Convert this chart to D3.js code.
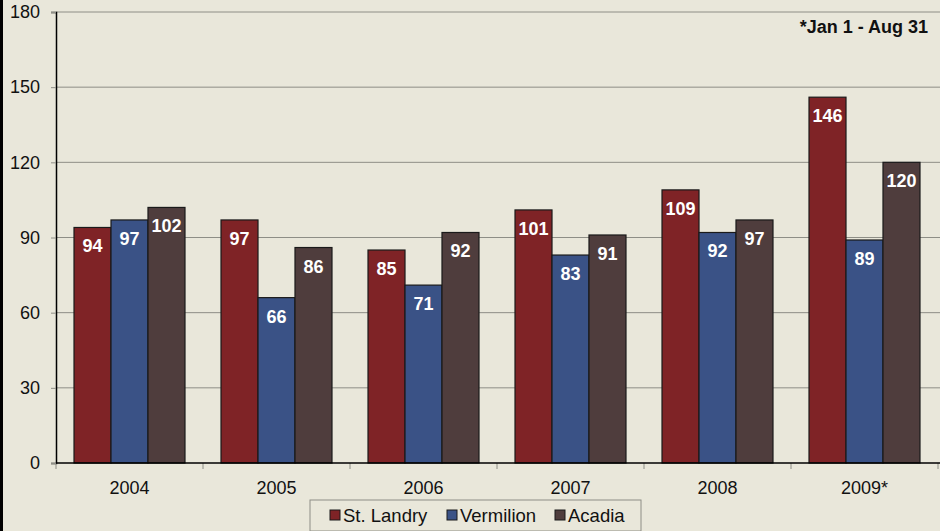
<!DOCTYPE html>
<html>
<head>
<meta charset="utf-8">
<script src="https://cdn.jsdelivr.net/npm/d3@7"></script>
<style>
  body { margin: 0; background: #e9e7da; }
  svg { display: block; font-family: "Liberation Sans", Arial, sans-serif; }
</style>
</head>
<body>
<div id="chart"></div>
<script>
const years = ["2004", "2005", "2006", "2007", "2008", "2009*"];
const parishes = ["St. Landry", "Vermilion", "Acadia"];
const stLandry = [94, 97, 85, 101, 109, 146];
const vermilion = [97, 66, 71, 83, 92, 89];
const acadia = [102, 86, 92, 91, 97, 120];
const yTicks = [0, 30, 60, 90, 120, 150, 180];
const colors = ["#7f2326", "#3a5286", "#4f3d3d"];
const footnote = "*Jan 1 - Aug 31";

const seriesValues = [stLandry, vermilion, acadia];
const rows = years.map((y, i) => ({year: y, values: parishes.map((p, j) => ({key: p, value: seriesValues[j][i]}))}));

const W = 940, H = 531;
const margin = {top: 12, right: 2, bottom: 68, left: 56};
const width = W - margin.left - margin.right;
const height = H - margin.top - margin.bottom;
const fs = 18;

const svg = d3.select("#chart").append("svg")
    .attr("width", W)
    .attr("height", H);

svg.append("rect").attr("width", W).attr("height", H).attr("fill", "#e9e7da");
// left frame edge
svg.append("line").attr("x1", 1.5).attr("x2", 1.5).attr("y1", 0).attr("y2", H)
    .attr("stroke", "#000").attr("stroke-width", 3);

const g = svg.append("g").attr("transform", "translate(" + margin.left + "," + margin.top + ")");

const x0 = d3.scaleBand().domain(years).range([0, width]).paddingInner(0.245).paddingOuter(0.1225);
const x1 = d3.scaleBand().domain(parishes).range([0, x0.bandwidth()]);
const y = d3.scaleLinear().domain([0, 180]).range([height, 0]);

// gridlines
g.selectAll(".grid").data(yTicks.filter(d => d > 0)).join("line")
    .attr("class", "grid")
    .attr("x1", 0).attr("x2", W - margin.left)
    .attr("y1", d => y(d)).attr("y2", d => y(d))
    .attr("stroke", "#8e8e86").attr("stroke-width", 1);

// y axis
const yAxis = g.append("g").call(d3.axisLeft(y).tickValues(yTicks).tickSize(5).tickPadding(11));
yAxis.select(".domain").attr("stroke", "#000").attr("stroke-width", 1.5);
yAxis.selectAll(".tick line").attr("stroke", "#8e8e86");
yAxis.selectAll("text").attr("font-size", fs).attr("fill", "#111").attr("font-family", "Liberation Sans, Arial, sans-serif");

// bars
const groups = g.selectAll(".yearG").data(rows).join("g")
    .attr("class", "yearG")
    .attr("transform", d => "translate(" + x0(d.year) + ",0)");

groups.selectAll("rect").data(d => d.values).join("rect")
    .attr("x", d => x1(d.key))
    .attr("y", d => y(d.value))
    .attr("width", x1.bandwidth())
    .attr("height", d => height - y(d.value))
    .attr("fill", (d, i) => colors[i])
    .attr("stroke", "#1a1a1a").attr("stroke-width", 1.2);

groups.selectAll(".lbl").data(d => d.values).join("text")
    .attr("class", "lbl")
    .attr("x", d => x1(d.key) + x1.bandwidth() / 2)
    .attr("y", d => y(d.value) + 25)
    .attr("text-anchor", "middle")
    .attr("font-size", fs).attr("font-weight", "bold").attr("fill", "#fff")
    .text(d => d.value);

// x axis
const xEdges = d3.range(years.length + 1).map(i => i * x0.step());
g.selectAll(".xtick").data(xEdges).join("line")
    .attr("x1", d => d).attr("x2", d => d)
    .attr("y1", height).attr("y2", height + 6)
    .attr("stroke", "#8e8e86");
g.append("line").attr("x1", 0).attr("x2", W - margin.left)
    .attr("y1", height).attr("y2", height)
    .attr("stroke", "#000").attr("stroke-width", 1.5);
g.selectAll(".xlbl").data(years).join("text")
    .attr("x", d => x0(d) + x0.bandwidth() / 2)
    .attr("y", height + 31)
    .attr("text-anchor", "middle")
    .attr("font-size", fs).attr("fill", "#111")
    .text(d => d);

// footnote
svg.append("text").attr("x", 928).attr("y", 33)
    .attr("text-anchor", "end").attr("font-size", fs).attr("font-weight", "bold").attr("fill", "#111")
    .text(footnote);

// legend
const legend = svg.append("g").attr("transform", "translate(310,500)");
legend.append("rect").attr("width", 331).attr("height", 31)
    .attr("fill", "#e9e7da").attr("stroke", "#8e8e86");
const legendX = [20, 137, 245];
const items = legend.selectAll(".li").data(parishes).join("g")
    .attr("transform", (d, i) => "translate(" + legendX[i] + ",0)");
items.append("rect").attr("x", 0).attr("y", 10).attr("width", 10).attr("height", 10)
    .attr("fill", (d, i) => colors[i]).attr("stroke", "#1a1a1a").attr("stroke-width", 1);
items.append("text").attr("x", 13).attr("y", 22)
    .attr("font-size", 18.5).attr("fill", "#111").text(d => d);
</script>
</body>
</html>
